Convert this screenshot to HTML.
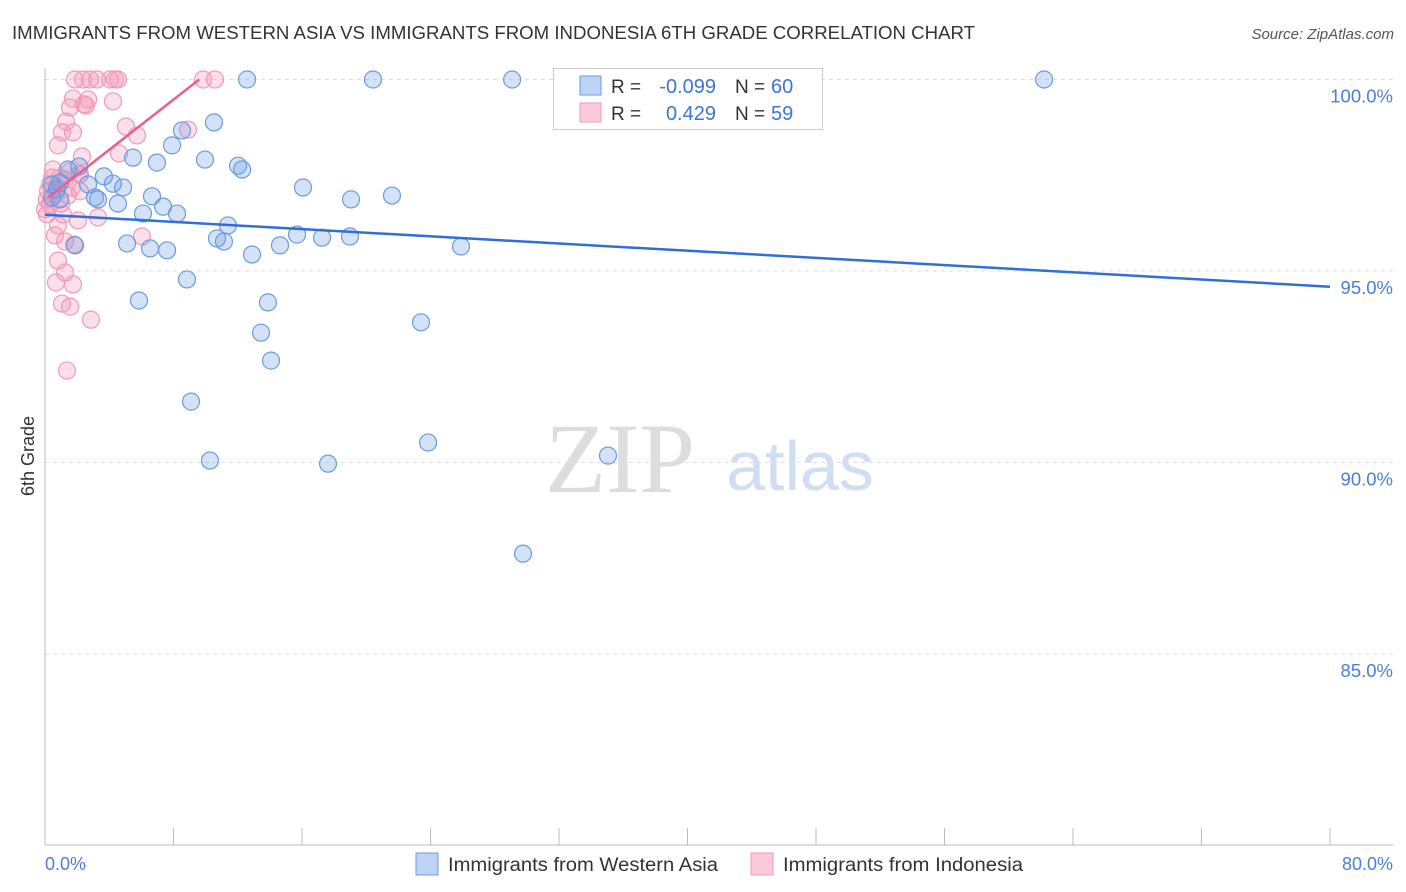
<!DOCTYPE html>
<html><head><meta charset="utf-8"><style>
body{margin:0;background:#fff;font-family:"Liberation Sans",sans-serif;}
#wrap{position:relative;width:1406px;height:892px;overflow:hidden}
</style></head><body><div id="wrap">
<svg id="svg" width="1406" height="892" xmlns="http://www.w3.org/2000/svg">
<text x="12" y="39" font-size="18" fill="#333" textLength="963" lengthAdjust="spacingAndGlyphs">IMMIGRANTS FROM WESTERN ASIA VS IMMIGRANTS FROM INDONESIA 6TH GRADE CORRELATION CHART</text>
<text x="1394" y="39" font-size="15" fill="#555" text-anchor="end" font-style="italic">Source: ZipAtlas.com</text>
<text x="620" y="492" font-size="100" fill="#ddd" font-family="Liberation Serif,serif" text-anchor="middle">ZIP</text>
<text x="800" y="490" font-size="70" fill="#d0def3" text-anchor="middle">atlas</text>
<g id="grid"></g><g id="axes"></g><g id="marks"></g>
<text transform="translate(34,456) rotate(-90)" font-size="18" fill="#333" text-anchor="middle">6th Grade</text>
<text x="45" y="870" font-size="18" fill="#4a7fd4">0.0%</text>
<text x="1393" y="870" font-size="18" fill="#4a7fd4" text-anchor="end">80.0%</text>
<g>
<rect x="553.5" y="68.5" width="269" height="61" fill="#fff" stroke="#ccc"/>
<rect x="580" y="76" width="21" height="19" fill="#bcd3f5" stroke="#6a9be0"/>
<rect x="580" y="103" width="21" height="19" fill="#fbc9d9" stroke="#f09ab8"/>
<text x="611" y="93" font-size="19" fill="#333">R =</text>
<text x="716" y="93" font-size="20" fill="#3b76d6" text-anchor="end">-0.099</text>
<text x="735" y="93" font-size="19" fill="#333">N =</text>
<text x="771" y="93" font-size="20" fill="#3b76d6">60</text>
<text x="611" y="120" font-size="19" fill="#333">R =</text>
<text x="716" y="120" font-size="20" fill="#3b76d6" text-anchor="end">0.429</text>
<text x="735" y="120" font-size="19" fill="#333">N =</text>
<text x="771" y="120" font-size="20" fill="#3b76d6">59</text>
</g>
<g>
<rect x="416" y="853" width="22" height="22" fill="#bcd3f5" stroke="#6a9be0"/>
<text x="448" y="871" font-size="19" fill="#333" textLength="270" lengthAdjust="spacingAndGlyphs">Immigrants from Western Asia</text>
<rect x="751" y="853" width="22" height="22" fill="#fbc9d9" stroke="#f09ab8"/>
<text x="783" y="871" font-size="19" fill="#333" textLength="240" lengthAdjust="spacingAndGlyphs">Immigrants from Indonesia</text>
</g>
</svg></div>
<script>
const yTicks=[100,95,90,85];
const xTicks=[0,8,16,24,32,40,48,56,64,72,80];
const blueX=[12.58,20.42,29.08,42.34,62.2,10.52,8.53,7.91,5.48,9.96,6.97,12.02,12.27,1.43,2.12,3.67,4.23,4.86,2.68,0.93,0.44,0.75,0.44,0.93,3.11,3.30,4.54,6.66,7.35,8.22,6.10,16.06,19.05,21.60,11.39,10.71,11.14,15.69,17.25,18.99,5.11,1.87,6.54,7.60,12.89,14.63,25.90,8.84,5.85,13.88,13.45,23.41,14.07,9.09,23.85,10.27,17.62,35.05,29.76];
const blueY=[100,100,100,100,100,98.88,98.67,98.28,97.96,97.91,97.83,97.75,97.65,97.65,97.73,97.47,97.28,97.18,97.26,97.31,97.26,97.13,96.92,96.87,96.92,96.87,96.76,96.95,96.68,96.50,96.50,97.18,96.87,96.97,96.19,95.85,95.77,95.95,95.87,95.90,95.72,95.67,95.59,95.54,95.43,95.67,95.64,94.78,94.23,94.18,93.39,93.66,92.66,91.59,90.52,90.05,89.97,90.18,87.62];
const pinkX=[1.87,2.37,2.80,3.24,4.05,4.36,4.54,9.84,10.58,1.74,2.68,2.43,4.23,1.56,2.55,1.31,5.04,1.06,1.74,5.73,8.90,0.81,4.61,2.30,0.50,1.56,2.12,0.93,0.31,0.62,0.12,0.31,1.00,2.18,1.68,2.18,1.25,0.12,1.12,2.05,3.30,0.81,0.62,1.25,6.04,1.81,0.81,1.25,1.74,0.68,1.06,1.56,2.86,1.37,0.19,0.44,0.75,1.43,0];
const pinkY=[100,100,100,100,100,100,100,100,100,99.50,99.48,99.35,99.43,99.27,99.32,98.90,98.77,98.62,98.62,98.54,98.69,98.28,98.07,97.99,97.65,97.60,97.52,97.44,97.26,97.00,96.87,96.74,96.76,97.08,97.18,97.52,97.39,96.48,96.48,96.32,96.40,96.19,95.93,95.77,95.90,95.69,95.27,94.96,94.65,94.70,94.15,94.07,93.73,92.40,97.08,97.44,97.21,96.97,96.61];
const blueTrendX=[0,80], blueTrendY=[96.47,94.59];
const pinkTrendX=[0.2,9.6], pinkTrendY=[96.92,100];
const X=v=>45+v/80*1285, Y=v=>79.5+(100-v)/5*191.5;
const NS="http://www.w3.org/2000/svg";
function mk(p,t,a){const e=document.createElementNS(NS,t);for(const k in a)e.setAttribute(k,a[k]);p.appendChild(e);return e;}
const grid=document.getElementById('grid'),axes=document.getElementById('axes'),marks=document.getElementById('marks');
yTicks.forEach(t=>{
 const l=mk(grid,'line',{x1:45,x2:1393,y1:Y(t),y2:Y(t),stroke:'#ddd','stroke-dasharray':'4,4'});
 
 
 const tx=mk(grid,'text',{x:1393,y:Y(t)+23,'font-size':18.5,fill:'#4a7fd4','text-anchor':'end'});
 tx.textContent=t.toFixed(1)+'%';
 
 
});
const xa=mk(axes,'line',{x1:45,x2:1393,y1:845,y2:845,stroke:'#bbb'});


const ya=mk(axes,'line',{x1:45,x2:45,y1:68,y2:845,stroke:'#bbb'});


xTicks.forEach(t=>{
 const l=mk(axes,'line',{x1:X(t),x2:X(t),y1:828,y2:845,stroke:'#bbb'});
 
 
});
pinkX.forEach((v,i)=>{
 const c=mk(marks,'circle',{cx:X(v),cy:Y(pinkY[i]),r:8.5,fill:'rgba(244,150,180,0.3)',stroke:'#f09ab8','stroke-width':1.2});
 
 
});
blueX.forEach((v,i)=>{
 const c=mk(marks,'circle',{cx:X(v),cy:Y(blueY[i]),r:8.5,fill:'rgba(110,160,230,0.3)',stroke:'#6a9be0','stroke-width':1.2});
 
 
});
const bt=mk(marks,'line',{x1:X(blueTrendX[0]),y1:Y(blueTrendY[0]),x2:X(blueTrendX[1]),y2:Y(blueTrendY[1]),stroke:'#2f6fd6','stroke-width':2.5});


const pt=mk(marks,'line',{x1:X(pinkTrendX[0]),y1:Y(pinkTrendY[0]),x2:X(pinkTrendX[1]),y2:Y(pinkTrendY[1]),stroke:'#e8608e','stroke-width':2.5});


</script></body></html>
